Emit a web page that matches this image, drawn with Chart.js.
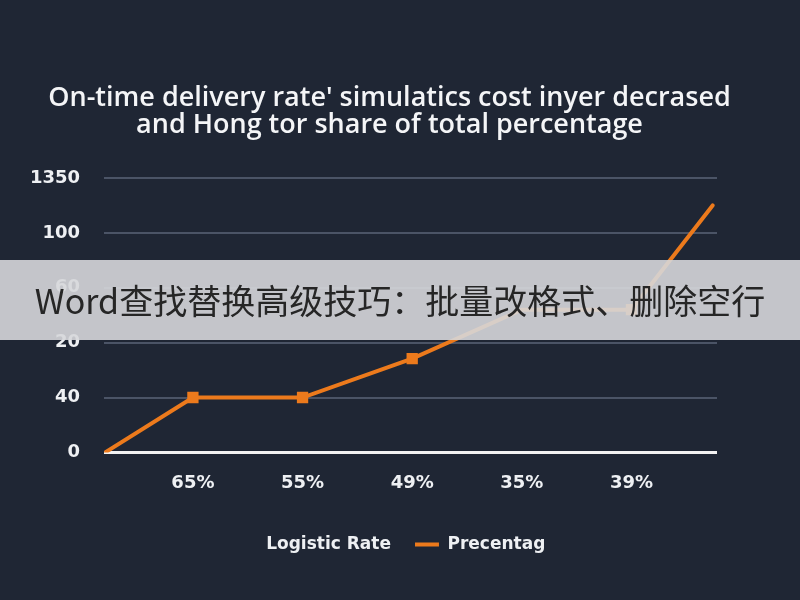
<!DOCTYPE html>
<html>
<head>
<meta charset="utf-8">
<script src="https://cdn.jsdelivr.net/npm/chart.js@4.4.1/dist/chart.umd.min.js"></script>
<style>
  html, body { margin: 0; padding: 0; background: #1f2634; }
  #wrap { position: relative; width: 800px; height: 600px; }
  #banner {
    position: absolute; left: 0; top: 260px; width: 800px; height: 80px;
    background: rgba(214, 215, 218, 0.9);
    color: #262626;
    font-family: "Noto Sans CJK SC", sans-serif;
    font-size: 34px; line-height: 80px; text-align: center;
    white-space: nowrap;
  }
</style>
</head>
<body>
<div id="wrap">
  <canvas id="grafico" width="800" height="600"></canvas>
  <div id="banner">Word查找替换高级技巧：批量改格式、删除空行</div>
</div>
<script>
// Etiquetas de los ejes (tal cual aparecen en la imagen)
const etiquetasX = ['65%', '55%', '49%', '35%', '39%'];
const etiquetasY = ['0', '40', '20', '60', '100', '1350'];

// Posiciones de los puntos en el eje X (1 = primera etiqueta)
const posicionesX = [0.2, 1, 2, 3, 4, 5, 5.74];
// Valores de la serie en unidades de cuadrícula (0 = línea base)
const valoresPrecentag = [0, 1, 1, 1.71, 2.6, 2.6, 4.5];

const naranja = '#ec7a1c';

// Función para pintar el gráfico
const renderChart = () => {
    const ctx = document.getElementById('grafico').getContext('2d');

    const data = {
        datasets: [{
            label: 'Logistic Rate',
            data: [],
            borderColor: 'rgba(0,0,0,0)',
            backgroundColor: 'rgba(0,0,0,0)',
            borderWidth: 0
        }, {
            label: 'Precentag',
            data: posicionesX.map((x, i) => ({ x: x, y: valoresPrecentag[i] })),
            borderColor: naranja,
            backgroundColor: naranja,
            borderWidth: 4,
            borderCapStyle: 'round',
            pointStyle: 'rect',
            pointRadius: [0, 8, 8, 8, 0, 8, 0],
            // el primer punto no se ve; su borde sirve para la línea de la leyenda
            pointBorderWidth: [4, 0, 0, 0, 0, 0, 0],
            tension: 0
        }]
    };

    const options = {
        responsive: false,
        animation: false,
        layout: { padding: { top: 73, left: 6, right: 27, bottom: 37 } },
        scales: {
            x: {
                type: 'linear',
                min: 0.19,
                max: 5.78,
                afterBuildTicks: axis => {
                    axis.ticks = etiquetasX.map((_, i) => ({ value: i + 1 }));
                },
                afterFit: axis => { axis.height += 6; },
                ticks: {
                    color: '#eef0f3',
                    padding: 12,
                    font: { family: 'DejaVu Sans', size: 18, weight: 'bold' },
                    callback: v => etiquetasX[v - 1]
                },
                grid: { display: false },
                border: { display: false }
            },
            y: {
                min: 0,
                max: 5,
                afterBuildTicks: axis => {
                    axis.ticks = etiquetasY.map((_, i) => ({ value: i }));
                },
                ticks: {
                    color: '#eef0f3',
                    padding: 24,
                    font: { family: 'DejaVu Sans', size: 18, weight: 'bold' },
                    callback: v => etiquetasY[v]
                },
                grid: {
                    drawTicks: false,
                    color: c => c.tick && c.tick.value === 0 ? '#f2f2f2' : '#4b5466',
                    lineWidth: c => c.tick && c.tick.value === 0 ? 3 : 2
                },
                border: { display: false }
            },
            // eje vacío a la derecha, solo para dejar el margen derecho
            derecha: {
                position: 'right',
                afterFit: axis => { axis.width = 56; },
                ticks: { display: false },
                grid: { display: false },
                border: { display: false }
            }
        },
        plugins: {
            title: {
                display: true,
                text: ["On-time delivery rate' simulatics cost inyer decrased",
                       'and Hong tor share of total percentage'],
                color: '#f4f5f7',
                font: { family: 'Open Sans', size: 27, weight: '600', lineHeight: 1.0 },
                padding: { top: 12, bottom: 39 }
            },
            legend: {
                display: true,
                position: 'bottom',
                labels: {
                    color: '#eef0f3',
                    font: { family: 'DejaVu Sans', size: 17, weight: 'bold' },
                    usePointStyle: true,
                    pointStyle: 'line',
                    pointStyleWidth: 24,
                    padding: 24
                }
            },
            tooltip: { enabled: false }
        }
    };

    new Chart(ctx, { type: 'line', data: data, options: options });
};

renderChart();
</script>
</body>
</html>
